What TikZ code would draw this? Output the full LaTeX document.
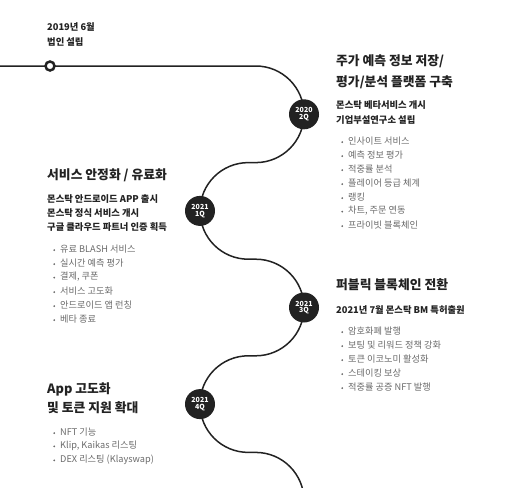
\documentclass[tikz,border=0pt]{standalone}
\usepackage{fontspec}
\setmainfont{Noto Sans CJK KR}
\definecolor{ink}{HTML}{222222}
\definecolor{itemgray}{HTML}{6A6A6A}
\tikzset{
  stage/.style={circle,fill=ink,text=white,minimum size=30pt,inner sep=0pt,
    font=\fontsize{7}{7.5}\selectfont\bfseries,align=center},
  title/.style={anchor=west,text=ink,font=\fontsize{12.8}{14}\selectfont\bfseries,inner sep=0pt},
  event/.style={anchor=west,text=ink,font=\fontsize{9.3}{10}\selectfont\bfseries,inner sep=0pt},
  item/.style={anchor=west,text=itemgray,font=\fontsize{9.2}{10}\selectfont,inner sep=0pt},
}
\newcommand{\dotitem}{\raisebox{0.15em}{\tikz\fill[itemgray] (0,0) circle (1pt);}\hspace{5pt}}
\begin{document}
\begin{tikzpicture}[x=1pt,y=-1pt]
\useasboundingbox (0,0) rectangle (518,487);
\begin{scope}
\clip (0,0) rectangle (518,487);
\draw[ink,line width=1.5pt] (0,66) -- (255.7,66)
  .. controls (282.4,66) and (304,87.6) .. (304,114.3)
  .. controls (304,141) and (282.4,162.6) .. (255.7,162.6) -- (248.3,162.6)
  .. controls (221.6,162.6) and (200,184.2) .. (200,210.9)
  .. controls (200,237.6) and (221.6,259.2) .. (248.3,259.2) -- (255.7,259.2)
  .. controls (282.4,259.2) and (304,280.8) .. (304,307.5)
  .. controls (304,334.2) and (282.4,355.8) .. (255.7,355.8) -- (248.3,355.8)
  .. controls (221.6,355.8) and (200,377.4) .. (200,404.1)
  .. controls (200,430.8) and (221.6,452.4) .. (248.3,452.4) -- (255.7,452.4)
  .. controls (282.4,452.4) and (304,474) .. (304,500.7);
\end{scope}
% founding
\node[circle,draw=ink,fill=white,line width=2.5pt,minimum size=9pt,inner sep=0pt] (start) at (50,66) {};
\node[event] (found1) at (47,27) {2019년 6월}; \node[event] (found2) at (47,42) {법인 설립};
% 2020 2Q
\node[stage] (q20b) at (304,114.3) {2020\\[-1pt]2Q};
\node[title] (t1a) at (336,61) {주가 예측 정보 저장/}; \node[title] (t1b) at (336,82) {평가/분석 플랫폼 구축};
\node[event] (e1a) at (336,105) {몬스탁 베타서비스 개시}; \node[event] (e1b) at (336,120) {기업부설연구소 설립};
\node[item] (i1a) at (341,141) {\dotitem 인사이트 서비스}; \node[item] (i1b) at (341,155) {\dotitem 예측 정보 평가};
\node[item] (i1c) at (341,169) {\dotitem 적중률 분석}; \node[item] (i1d) at (341,183) {\dotitem 플레이어 등급 체계};
\node[item] (i1e) at (341,197) {\dotitem 랭킹}; \node[item] (i1f) at (341,211) {\dotitem 차트, 주문 연동};
\node[item] (i1g) at (341,225) {\dotitem 프라이빗 블록체인};
% 2021 1Q
\node[stage] (q21a) at (200,210.9) {2021\\[-1pt]1Q};
\node[title] (t2) at (47,175) {서비스 안정화 / 유료화};
\node[event] (e2a) at (47,199) {몬스탁 안드로이드 APP 출시}; \node[event] (e2b) at (47,213) {몬스탁 정식 서비스 개시};
\node[event] (e2c) at (47,227) {구글 클라우드 파트너 인증 획득};
\node[item] (i2a) at (53,249) {\dotitem 유료 BLASH 서비스}; \node[item] (i2b) at (53,263) {\dotitem 실시간 예측 평가};
\node[item] (i2c) at (53,277) {\dotitem 결제, 쿠폰}; \node[item] (i2d) at (53,291) {\dotitem 서비스 고도화};
\node[item] (i2e) at (53,305) {\dotitem 안드로이드 앱 런칭}; \node[item] (i2f) at (53,319) {\dotitem 베타 종료};
% 2021 3Q
\node[stage] (q21c) at (304,307.5) {2021\\[-1pt]3Q};
\node[title] (t3) at (336,285) {퍼블릭 블록체인 전환};
\node[event] (e3) at (336,310) {2021년 7월 몬스탁 BM 특허출원};
\node[item] (i3a) at (341,331) {\dotitem 암호화폐 발행}; \node[item] (i3b) at (341,345) {\dotitem 보팅 및 리워드 정책 강화};
\node[item] (i3c) at (341,359) {\dotitem 토큰 이코노미 활성화}; \node[item] (i3d) at (341,373) {\dotitem 스테이킹 보상};
\node[item] (i3e) at (341,387) {\dotitem 적중률 공증 NFT 발행};
% 2021 4Q
\node[stage] (q21d) at (200,404.1) {2021\\[-1pt]4Q};
\node[title] (t4a) at (47,389) {App 고도화}; \node[title] (t4b) at (47,408) {및 토큰 지원 확대};
\node[item] (i4a) at (53,432) {\dotitem NFT 기능}; \node[item] (i4b) at (53,446) {\dotitem Klip, Kaikas 리스팅};
\node[item] (i4c) at (53,460) {\dotitem DEX 리스팅 (Klayswap)};
\end{tikzpicture}
\end{document}
